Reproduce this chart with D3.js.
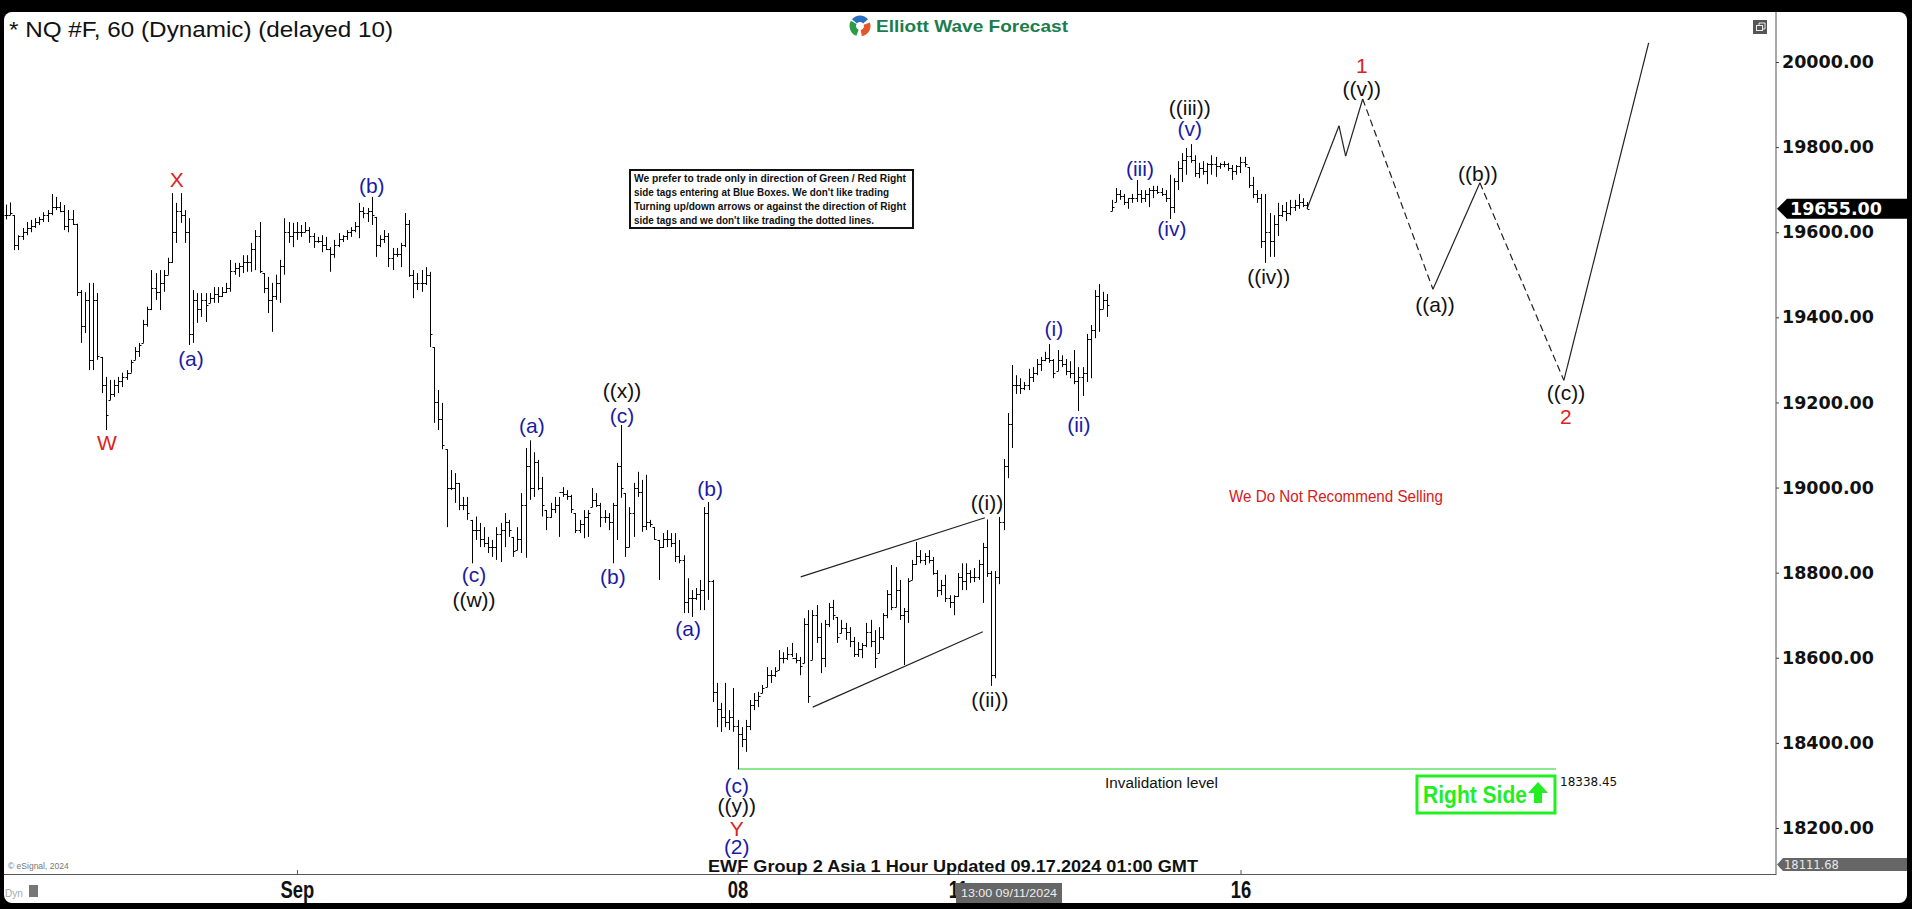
<!DOCTYPE html>
<meta charset="utf-8">
<style>
  body { margin: 0; background: #000; }
  svg { display: block; font-family: "Liberation Sans", Arial, sans-serif; }
</style>
<script src="https://d3js.org/d3.v7.min.js"></script>
<div id="chart"></div>
<script>
// hourly bars, NQ continuous, index 0..313
var highs = [
  19665,19670,19640,19593,19610,19624,19629,19633,19636,19647,
  19652,19690,19683,19671,19664,19652,19652,19620,19464,19459,
  19481,19481,19457,19307,19260,19253,19253,19260,19270,19276,
  19300,19330,19340,19394,19425,19511,19504,19511,19511,19540,
  19692,19669,19692,19652,19633,19464,19457,19457,19457,19457,
  19471,19471,19471,19481,19535,19528,19528,19546,19546,19575,
  19605,19624,19504,19495,19481,19500,19535,19633,19624,19622,
  19624,19617,19624,19612,19598,19589,19593,19589,19565,19582,
  19598,19593,19605,19612,19624,19669,19659,19657,19683,19636,
  19593,19605,19598,19563,19563,19575,19645,19629,19511,19504,
  19511,19518,19507,19330,19229,19199,19090,19041,19034,19011,
  18978,18978,18924,18932,18917,18907,18884,18877,18907,18917,
  18940,18924,18884,18907,18987,19093,19111,19083,19065,19025,
  18947,18964,18978,18978,19001,18994,18983,18940,18924,18947,
  18947,18999,18987,18964,18947,18940,18964,19058,19147,18987,
  18954,19011,19037,19018,19030,18924,18907,18877,18893,18900,
  18893,18893,18877,18841,18787,18759,18764,18783,18954,18966,
  18783,18541,18494,18541,18477,18529,18454,18437,18454,18501,
  18517,18520,18536,18578,18571,18578,18618,18613,18625,18635,
  18611,18602,18693,18712,18712,18724,18682,18689,18729,18736,
  18696,18689,18682,18672,18649,18637,18635,18682,18689,18665,
  18672,18705,18759,18818,18813,18783,18717,18787,18830,18872,
  18853,18846,18853,18837,18806,18783,18795,18747,18747,18799,
  18822,18822,18806,18811,18830,18870,18925,18804,18804,18931,
  19067,19175,19288,19264,19257,19248,19279,19283,19302,19307,
  19319,19337,19302,19323,19311,19302,19297,19323,19283,19283,
  19361,19382,19464,19478,19460,19455,19676,19704,19699,19690,
  19680,19690,19723,19699,19699,19704,19709,19709,19704,19699,
  19735,19727,19767,19786,19798,19807,19781,19763,19767,19763,
  19781,19777,19763,19767,19763,19758,19758,19777,19777,19753,
  19730,19699,19690,19690,19645,19640,19669,19664,19671,19676,
  19676,19690,19680,19671
];
var lows = [
  19630,19640,19558,19558,19582,19593,19600,19610,19617,19624,
  19624,19640,19652,19647,19605,19600,19617,19450,19340,19363,
  19276,19276,19300,19222,19135,19206,19213,19222,19236,19253,
  19270,19300,19307,19340,19378,19417,19441,19417,19460,19500,
  19528,19575,19622,19575,19335,19340,19387,19401,19389,19434,
  19434,19434,19448,19457,19460,19500,19495,19504,19507,19507,
  19511,19504,19457,19410,19366,19441,19434,19500,19575,19565,
  19582,19589,19600,19575,19563,19575,19553,19558,19507,19540,
  19565,19577,19582,19589,19600,19586,19633,19624,19617,19542,
  19565,19575,19518,19511,19542,19518,19565,19495,19445,19464,
  19460,19476,19330,19152,19135,19090,18907,18994,18964,18947,
  18947,18924,18822,18877,18860,18860,18846,18837,18830,18825,
  18860,18884,18837,18853,18846,18835,18971,18978,18994,18932,
  18900,18929,18940,18884,18978,18971,18940,18893,18893,18881,
  18884,18954,18954,18907,18917,18900,18822,18877,18976,18837,
  18860,18884,18978,18896,18900,18907,18877,18783,18858,18860,
  18860,18825,18822,18705,18705,18696,18736,18712,18712,18736,
  18496,18437,18426,18437,18430,18426,18338,18390,18379,18430,
  18477,18484,18517,18531,18541,18555,18571,18587,18595,18602,
  18587,18559,18587,18494,18595,18635,18564,18578,18672,18689,
  18635,18658,18642,18625,18602,18602,18599,18625,18625,18576,
  18611,18642,18693,18712,18719,18689,18583,18682,18783,18818,
  18822,18818,18822,18795,18743,18747,18731,18717,18700,18743,
  18759,18759,18776,18778,18783,18729,18790,18534,18552,18773,
  18900,19022,19093,19220,19220,19229,19229,19248,19264,19274,
  19297,19293,19257,19274,19283,19264,19257,19243,19180,19215,
  19248,19257,19351,19366,19420,19401,19650,19671,19676,19664,
  19655,19669,19671,19669,19671,19659,19680,19690,19685,19671,
  19631,19645,19699,19718,19735,19763,19730,19727,19735,19713,
  19735,19730,19749,19753,19744,19723,19735,19739,19753,19704,
  19680,19669,19563,19528,19542,19542,19591,19636,19626,19640,
  19650,19655,19659,19655
];
var closes = [
  19640,19645,19570,19590,19600,19610,19615,19625,19630,19640,
  19645,19660,19660,19650,19615,19630,19620,19460,19380,19440,
  19300,19440,19310,19240,19170,19220,19240,19250,19260,19270,
  19295,19320,19335,19385,19420,19470,19460,19480,19500,19530,
  19600,19650,19640,19600,19360,19440,19420,19440,19430,19445,
  19455,19450,19460,19470,19510,19515,19520,19530,19530,19560,
  19590,19510,19470,19440,19450,19480,19520,19600,19590,19600,
  19600,19600,19605,19590,19580,19580,19570,19560,19550,19570,
  19585,19590,19600,19605,19615,19650,19645,19650,19640,19570,
  19585,19590,19540,19550,19550,19570,19620,19500,19480,19480,
  19480,19500,19360,19200,19160,19100,19000,19000,19010,18960,
  18960,18940,18900,18900,18880,18870,18860,18860,18890,18900,
  18920,18900,18850,18880,18960,19050,19000,19060,19000,18960,
  18930,18950,18960,18990,18985,18980,18950,18900,18915,18930,
  18940,18970,18960,18930,18930,18920,18960,19050,19000,18860,
  18940,19000,18990,18910,18920,18915,18880,18860,18880,18880,
  18870,18840,18830,18730,18740,18740,18750,18760,18940,18780,
  18520,18480,18460,18450,18460,18440,18420,18410,18440,18490,
  18500,18510,18530,18560,18560,18570,18600,18600,18610,18600,
  18595,18580,18680,18510,18700,18650,18600,18680,18720,18700,
  18650,18670,18660,18640,18610,18620,18630,18660,18640,18600,
  18650,18700,18750,18720,18760,18700,18710,18780,18820,18840,
  18830,18840,18830,18800,18760,18770,18740,18730,18745,18790,
  18780,18800,18790,18790,18820,18860,18800,18560,18790,18920,
  19050,19150,19240,19240,19235,19240,19260,19270,19290,19300,
  19305,19300,19270,19300,19290,19275,19270,19250,19260,19270,
  19350,19370,19450,19420,19440,19430,19660,19690,19685,19670,
  19680,19680,19690,19680,19690,19700,19700,19695,19690,19680,
  19660,19720,19750,19770,19780,19770,19740,19750,19745,19760,
  19760,19755,19760,19760,19750,19745,19755,19765,19760,19710,
  19690,19680,19580,19600,19580,19620,19640,19650,19645,19660,
  19665,19670,19665,19655
];

var priceTicks = [18200, 18400, 18600, 18800, 19000, 19200, 19400, 19600, 19800, 20000];
var dateTicks = [70, 176, 229, 297];
var dateLabels = ["Sep", "08", "11", "16"];

var lastPrice = 19655.00;
var lowMark = 18111.68;
var invalidation = 18338.45;

// [text, bar index, price, colour]
var waveLabels = [
  ["W", 24.3, 19105, "red"], ["X", 41.1, 19725, "red"],
  ["(a)", 44.5, 19304, "blue"], ["(b)", 88.0, 19711, "blue"],
  ["(c)", 112.6, 18797, "blue"], ["((w))", 112.6, 18736, "black"],
  ["(a)", 126.5, 19145, "blue"], ["((x))", 148.2, 19229, "black"],
  ["(c)", 148.2, 19170, "blue"], ["(b)", 146.0, 18790, "blue"],
  ["(b)", 169.4, 18997, "blue"], ["(a)", 164.1, 18668, "blue"],
  ["(c)", 175.8, 18301, "blue"], ["((y))", 175.8, 18254, "black"],
  ["Y", 175.8, 18200, "red"], ["(2)", 175.8, 18157, "blue"],
  ["((i))", 236.0, 18966, "black"], ["((ii))", 236.7, 18503, "black"],
  ["(i)", 252.1, 19373, "blue"], ["(ii)", 258.1, 19149, "blue"],
  ["(iii)", 272.8, 19749, "blue"], ["(iv)", 280.5, 19608, "blue"],
  ["(v)", 284.8, 19845, "blue"], ["((iii))", 284.8, 19894, "black"],
  ["((iv))", 303.8, 19497, "black"],
  ["((v))", 326.2, 19939, "black"], ["1", 326.2, 19993, "red"],
  ["((a))", 343.8, 19431, "black"], ["((b))", 354.1, 19739, "black"],
  ["((c))", 375.3, 19224, "black"], ["2", 375.3, 19167, "red"]
];
var labelColor = { red: "#dd2222", blue: "#1a1aa6", black: "#111" };

// projected path [bar index, price] and whether each leg is dashed
var projPoints = [[313, 19655], [320.7, 19850], [322.3, 19779], [326.4, 19913],
                  [343.3, 19466], [354.6, 19716], [374.8, 19252], [395.2, 20045]];
var projDashed = [false, false, false, true, false, true, false];

var channelUpper = [[191.2, 18790], [235.5, 18929]];
var channelLower = [[194.1, 18484], [235.0, 18661]];

var noteLines = [
  "We prefer to trade only in direction of Green / Red Right",
  "side tags entering at Blue Boxes. We don't like trading",
  "Turning up/down arrows or against the direction of Right",
  "side tags and we don't like trading the dotted lines."
];
var noteWidths = [272, 255, 272, 240];

var W = 1912, H = 909;
var svg = d3.select("#chart").append("svg").attr("width", W).attr("height", H);

svg.append("rect").attr("width", W).attr("height", H).attr("fill", "#000");
svg.append("rect").attr("x", 4).attr("y", 12).attr("width", 1903).attr("height", 891)
  .attr("rx", 8).attr("fill", "#fff");

var x = d3.scaleLinear().domain([0, 313]).range([6, 1307]);
var y = d3.scaleLinear().domain([18200, 20000]).range([828, 62]);

// title and logo
svg.append("text").attr("x", 9).attr("y", 37).attr("font-size", 22).attr("fill", "#111")
  .attr("textLength", 384).attr("lengthAdjust", "spacingAndGlyphs")
  .text("* NQ #F, 60 (Dynamic) (delayed 10)");

var logo = svg.append("g").attr("transform", "translate(860,26)");
var arcs = [["#2e9b48", 200, 300], ["#2a6fc0", 310, 410], ["#e2582a", 70, 170]];
arcs.forEach(function(a) {
  logo.append("path")
    .attr("d", d3.arc().innerRadius(4).outerRadius(10.5)
      .startAngle(a[1] * Math.PI / 180).endAngle(a[2] * Math.PI / 180)())
    .attr("fill", a[0]);
});
svg.append("text").attr("x", 876).attr("y", 32).attr("font-size", 16.5).attr("font-weight", "bold")
  .attr("fill", "#1b7d4c").attr("textLength", 192).attr("lengthAdjust", "spacingAndGlyphs")
  .text("Elliott Wave Forecast");

// small window icon
svg.append("rect").attr("x", 1753).attr("y", 20).attr("width", 14).attr("height", 14).attr("fill", "#555");
svg.append("rect").attr("x", 1756.5).attr("y", 25.5).attr("width", 6).attr("height", 5)
  .attr("fill", "none").attr("stroke", "#eee").attr("stroke-width", 1);
svg.append("path").attr("d", "M1759,25V23H1765V29H1763").attr("fill", "none").attr("stroke", "#eee");

// axes frame
svg.append("line").attr("x1", 1776).attr("x2", 1776).attr("y1", 12).attr("y2", 875)
  .attr("stroke", "#555").attr("stroke-width", 1);
svg.append("line").attr("x1", 4).attr("x2", 1776).attr("y1", 874.5).attr("y2", 874.5)
  .attr("stroke", "#555").attr("stroke-width", 1);

var yAxis = svg.append("g").attr("transform", "translate(1776,0)")
  .call(d3.axisRight(y).tickValues(priceTicks).tickSize(3).tickPadding(3).tickFormat(d3.format(".2f")));
yAxis.select(".domain").remove();
yAxis.selectAll("line").attr("stroke", "#444");
yAxis.selectAll("text").attr("font-family", "DejaVu Sans, sans-serif").attr("font-size", 17.5)
  .attr("font-weight", "bold").attr("fill", "#111");

// last price tag
var ly = y(lastPrice);
svg.append("path").attr("d", "M1777," + ly + "L1787," + (ly - 10) + "H1907V" + (ly + 10) + "H1787Z").attr("fill", "#000");
svg.append("text").attr("x", 1790).attr("y", ly + 6.5).attr("font-family", "DejaVu Sans, sans-serif")
  .attr("font-size", 17.5).attr("font-weight", "bold").attr("fill", "#fff").text(d3.format(".2f")(lastPrice));

// low tag
var lwy = y(lowMark) - 1;
svg.append("path").attr("d", "M1777," + lwy + "L1783," + (lwy - 6.5) + "H1907V" + (lwy + 6.5) + "H1783Z").attr("fill", "#666");
svg.append("text").attr("x", 1784).attr("y", lwy + 4.5).attr("font-family", "DejaVu Sans, sans-serif")
  .attr("font-size", 11.5).attr("fill", "#e8e8e8").text(d3.format(".2f")(lowMark));

// date axis
var xAxis = svg.append("g").attr("transform", "translate(0,875)")
  .call(d3.axisBottom(x).tickValues(dateTicks).tickSize(-5).tickPadding(7)
    .tickFormat(function(d, i) { return dateLabels[i]; }));
xAxis.select(".domain").remove();
xAxis.selectAll("line").attr("stroke", "#555");
xAxis.selectAll("text").attr("font-family", "Liberation Sans, Arial, sans-serif").attr("font-size", 23)
  .attr("font-weight", "bold").attr("fill", "#111").attr("transform", "scale(0.8,1)");

// crosshair time tag
svg.append("rect").attr("x", 956).attr("y", 883).attr("width", 106).attr("height", 20).attr("fill", "#666");
svg.append("text").attr("x", 1009).attr("y", 897).attr("text-anchor", "middle").attr("font-size", 11.5)
  .attr("fill", "#eee").attr("textLength", 96).attr("lengthAdjust", "spacingAndGlyphs").text("13:00 09/11/2024");

svg.append("text").attr("x", 8).attr("y", 869).attr("font-size", 8.5).attr("fill", "#777").text("© eSignal, 2024");
svg.append("text").attr("x", 5).attr("y", 897).attr("font-size", 11).attr("fill", "#aaa")
  .attr("textLength", 18).attr("lengthAdjust", "spacingAndGlyphs").text("Dyn");
svg.append("rect").attr("x", 29).attr("y", 885).attr("width", 9).attr("height", 12).attr("fill", "#777");

svg.append("text").attr("x", 708).attr("y", 872).attr("font-size", 17).attr("font-weight", "bold").attr("fill", "#111")
  .attr("textLength", 490).attr("lengthAdjust", "spacingAndGlyphs")
  .text("EWF Group 2 Asia 1 Hour Updated 09.17.2024 01:00 GMT");

// note box
svg.append("rect").attr("x", 630).attr("y", 170).attr("width", 283).attr("height", 58)
  .attr("fill", "#fff").attr("stroke", "#111").attr("stroke-width", 2);
svg.append("g").selectAll("text").data(noteLines).join("text")
  .attr("x", 634).attr("y", function(d, i) { return 182 + i * 14; })
  .attr("font-size", 11.5).attr("font-weight", "bold").attr("fill", "#111")
  .attr("textLength", function(d, i) { return noteWidths[i]; }).attr("lengthAdjust", "spacingAndGlyphs")
  .text(function(d) { return d; });

svg.append("text").attr("x", 1229).attr("y", 502).attr("font-size", 16).attr("fill", "#d42020")
  .attr("textLength", 214).attr("lengthAdjust", "spacingAndGlyphs").text("We Do Not Recommend Selling");

// invalidation level
var iy = y(invalidation);
svg.append("line").attr("x1", x(176)).attr("x2", 1556).attr("y1", iy).attr("y2", iy)
  .attr("stroke", "#66e066").attr("stroke-width", 1.5);
svg.append("text").attr("x", 1105).attr("y", 788).attr("font-size", 14).attr("fill", "#111")
  .attr("textLength", 113).attr("lengthAdjust", "spacingAndGlyphs").text("Invalidation level");
svg.append("text").attr("x", 1560).attr("y", iy + 17).attr("font-family", "DejaVu Sans, sans-serif")
  .attr("font-size", 12).attr("fill", "#111").text(d3.format(".2f")(invalidation));

// right side tag
svg.append("rect").attr("x", 1417).attr("y", 776).attr("width", 138).attr("height", 37)
  .attr("fill", "#fff").attr("stroke", "#22ee22").attr("stroke-width", 3);
svg.append("text").attr("x", 1423).attr("y", 803).attr("font-size", 23).attr("font-weight", "bold")
  .attr("fill", "#22ee22").attr("textLength", 104).attr("lengthAdjust", "spacingAndGlyphs").text("Right Side");
svg.append("path").attr("d", "M1538,782L1548,793H1542V803H1534V793H1528Z").attr("fill", "#22ee22");

// channel
[channelUpper, channelLower].forEach(function(c) {
  svg.append("line").attr("x1", x(c[0][0])).attr("y1", y(c[0][1])).attr("x2", x(c[1][0])).attr("y2", y(c[1][1]))
    .attr("stroke", "#222").attr("stroke-width", 1.2);
});

// projected path
svg.append("g").selectAll("line").data(projDashed).join("line")
  .attr("x1", function(d, i) { return x(projPoints[i][0]); })
  .attr("y1", function(d, i) { return y(projPoints[i][1]); })
  .attr("x2", function(d, i) { return x(projPoints[i + 1][0]); })
  .attr("y2", function(d, i) { return y(projPoints[i + 1][1]); })
  .attr("stroke", "#222").attr("stroke-width", 1.2)
  .attr("stroke-dasharray", function(d) { return d ? "7,4" : null; });

// OHLC bars (open tick at previous close)
svg.append("g").attr("stroke", "#000").attr("stroke-width", 1).attr("fill", "none")
  .selectAll("path").data(d3.range(highs.length)).join("path")
  .attr("d", function(i) {
    var bx = Math.round(x(i)) + 0.5;
    var o = i > 0 ? Math.max(lows[i], Math.min(highs[i], closes[i - 1])) : closes[i];
    var oy = Math.round(y(o)) + 0.5, cy = Math.round(y(closes[i])) + 0.5;
    return "M" + bx + "," + y(highs[i]) + "V" + y(lows[i]) +
      "M" + (bx - 2) + "," + oy + "H" + bx + "M" + bx + "," + cy + "H" + (bx + 2);
  });

// wave labels
svg.append("g").selectAll("text").data(waveLabels).join("text")
  .attr("x", function(d) { return x(d[1]); })
  .attr("y", function(d) { return y(d[2]); })
  .attr("dy", "0.36em").attr("text-anchor", "middle").attr("font-size", 21)
  .attr("fill", function(d) { return labelColor[d[3]]; })
  .text(function(d) { return d[0]; });
</script>
